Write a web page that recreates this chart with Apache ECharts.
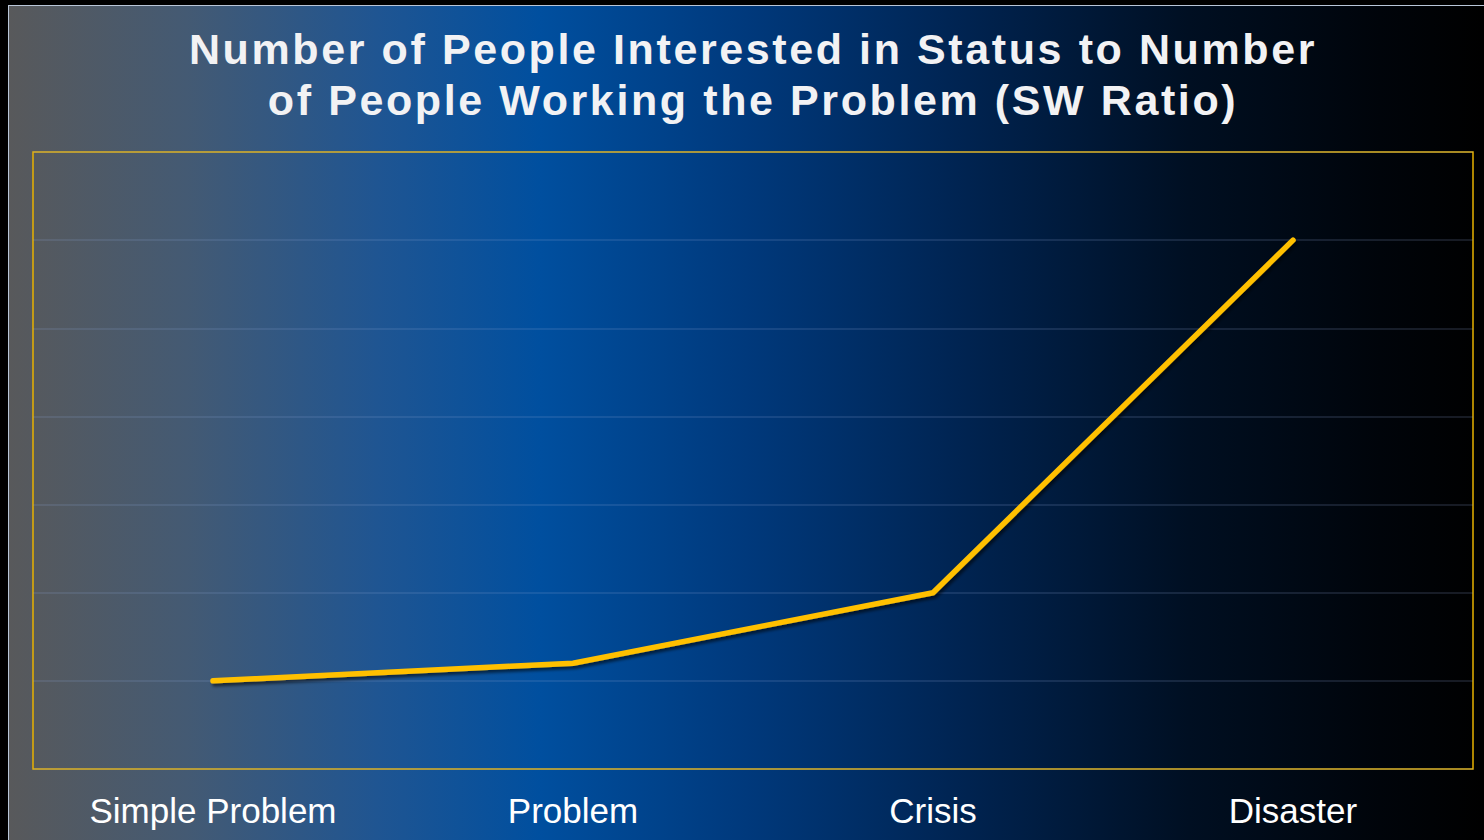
<!DOCTYPE html>
<html>
<head>
<meta charset="utf-8">
<script src="https://cdn.jsdelivr.net/npm/echarts@6/dist/echarts.min.js"></script>
<style>
  html, body { margin: 0; padding: 0; background: #000; }
  #frame {
    position: absolute; left: 8px; top: 5px;
    border-left: 1px solid #b9c6d8; border-top: 1px solid #b9c6d8;
  }
  #chart { width: 1475px; height: 834px; }
  /* the slide title is tracked out a bit */
  #chart text[style*="bold"], #chart text[font-weight="bold"] { letter-spacing: 2.6px; }
</style>
</head>
<body>
<div id="frame"><div id="chart"></div></div>
<script>
// stages of the problem and the SW ratio
const stages = ['Simple Problem', 'Problem', 'Crisis', 'Disaster']
const swRatio = [1, 1.2, 2, 6]
const yTicks = [0, 1, 2, 3, 4, 5, 6, 7]

const myChart = echarts.init(document.getElementById('chart'), null, { renderer: 'svg' })

const option = {
  backgroundColor: {
    type: 'linear',
    x: 0, y: 0, x2: 1, y2: 0,
    colorStops: [
      { offset: 0, color: '#58595b' },
      { offset: 0.12, color: '#445a73' },
      { offset: 0.25, color: '#1f5592' },
      { offset: 0.36, color: '#004f9f' },
      { offset: 0.5, color: '#00397c' },
      { offset: 0.65, color: '#002350' },
      { offset: 0.8, color: '#000f22' },
      { offset: 0.93, color: '#00040a' },
      { offset: 1, color: '#000000' }
    ]
  },
  title: {
    text: 'Number of People Interested in Status to Number\nof People Working the Problem (SW Ratio)',
    left: 739,
    textAlign: 'center',
    top: 12,
    textStyle: {
      color: '#f2f2f4',
      fontFamily: 'Liberation Sans, Arial, sans-serif',
      fontWeight: 'bold',
      fontSize: 43,
      lineHeight: 51
    }
  },
  grid: {
    left: 24,
    top: 146,
    width: 1440,
    height: 617,
    show: true,
    borderColor: '#e8b100',
    borderWidth: 1.5,
    backgroundColor: 'transparent'
  },
  xAxis: {
    type: 'category',
    data: stages,
    boundaryGap: true,
    axisLine: { show: false },
    axisTick: { show: false },
    axisLabel: {
      color: '#ffffff',
      fontFamily: 'Liberation Sans, Arial, sans-serif',
      fontSize: 35,
      margin: 24
    }
  },
  yAxis: {
    type: 'value',
    min: yTicks[0],
    max: yTicks[yTicks.length - 1],
    interval: 1,
    axisLine: { show: false },
    axisTick: { show: false },
    axisLabel: { show: false },
    splitLine: {
      lineStyle: { color: 'rgba(140,170,215,0.22)', width: 1.5 }
    }
  },
  series: [{
    type: 'line',
    data: swRatio,
    symbol: 'none',
    lineStyle: {
      color: '#ffc000',
      width: 5.5,
      cap: 'round',
      join: 'round',
      shadowColor: 'rgba(0,0,0,0.55)',
      shadowBlur: 3,
      shadowOffsetX: 2,
      shadowOffsetY: 3
    },
    animation: false
  }]
}

myChart.setOption(option)
</script>
</body>
</html>
